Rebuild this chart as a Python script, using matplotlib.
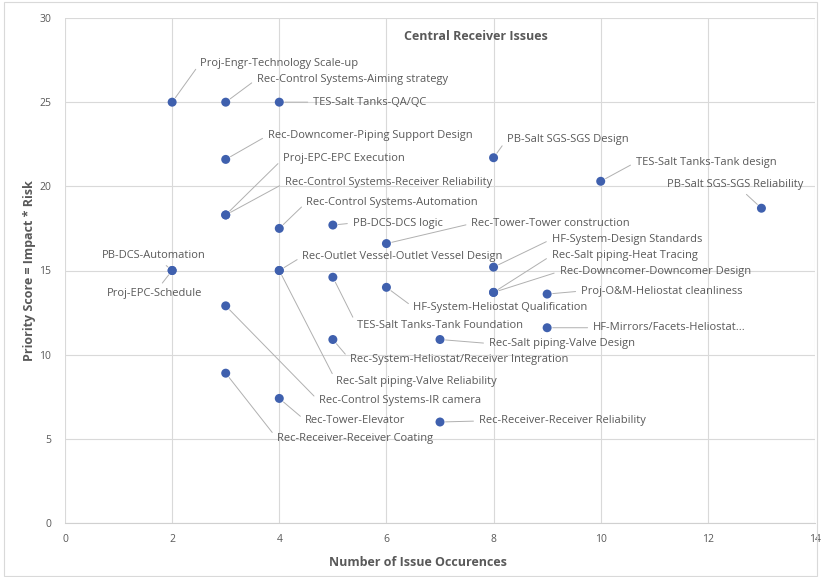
import matplotlib.pyplot as plt
from matplotlib.patches import Rectangle

# issue data: occurrences vs priority score
issues = [
    'Proj-Engr-Technology Scale-up',
    'Rec-Control Systems-Aiming strategy',
    'TES-Salt Tanks-QA/QC',
    'Rec-Downcomer-Piping Support Design',
    'Proj-EPC-EPC Execution',
    'Rec-Control Systems-Receiver Reliability',
    'Rec-Control Systems-Automation',
    'PB-DCS-DCS logic',
    'Rec-Tower-Tower construction',
    'PB-DCS-Automation',
    'Proj-EPC-Schedule',
    'Rec-Outlet Vessel-Outlet Vessel Design',
    'Rec-Salt piping-Valve Reliability',
    'TES-Salt Tanks-Tank Foundation',
    'HF-System-Heliostat Qualification',
    'Rec-System-Heliostat/Receiver Integration',
    'Rec-Control Systems-IR camera',
    'Rec-Receiver-Receiver Coating',
    'Rec-Tower-Elevator',
    'PB-Salt SGS-SGS Design',
    'TES-Salt Tanks-Tank design',
    'PB-Salt SGS-SGS Reliability',
    'HF-System-Design Standards',
    'Rec-Salt piping-Heat Tracing',
    'Rec-Downcomer-Downcomer Design',
    'Proj-O&M-Heliostat cleanliness',
    'HF-Mirrors/Facets-Heliostat...',
    'Rec-Salt piping-Valve Design',
    'Rec-Receiver-Receiver Reliability',
]
occurrences = [2, 3, 4, 3, 3, 3, 4, 5, 6, 2, 2, 4, 4, 5, 6, 5, 3, 3, 4,
               8, 10, 13, 8, 8, 8, 9, 9, 7, 7]
priority = [25, 25, 25, 21.6, 18.3, 18.3, 17.5, 17.7, 16.6, 15, 15, 15, 15,
            14.6, 14.0, 10.9, 12.9, 8.9, 7.4, 21.7, 20.3, 18.7, 15.2, 13.7,
            13.7, 13.6, 11.6, 10.9, 6.0]

# label placement (pixel offsets from the point, horizontal alignment)
label_offsets = [
    (28, 39, 'left'), (31, 23, 'left'), (34, 0, 'left'), (42, 24, 'left'),
    (57, 56, 'left'), (59, 32, 'left'), (27, 26, 'left'), (20, 2, 'left'),
    (85, 20, 'left'), (-18, 15, 'center'), (-18, -23, 'center'),
    (23, 14, 'left'), (57, -111, 'left'), (24, -48, 'left'),
    (27, -20, 'left'), (17, -20, 'left'), (93, -95, 'left'),
    (51, -65, 'left'), (26, -22, 'left'), (13, 18, 'left'),
    (35, 19, 'left'), (-26, 24, 'center'), (58, 28, 'left'),
    (58, 37, 'left'), (66, 21, 'left'), (34, 3, 'left'), (46, 0, 'left'),
    (49, -4, 'left'), (39, 1, 'left'),
]

text_gray = '#595959'
font = 'Open Sans'

fig = plt.figure(figsize=(8.21, 5.77), dpi=100)
ax = fig.add_axes([65 / 821, 54 / 577, 750 / 821, 505 / 577])

ax.scatter(occurrences, priority, s=42, color='#3F60AE', zorder=3,
           edgecolors='none')

for name, x, y, (dx, dy, ha) in zip(issues, occurrences, priority, label_offsets):
    relx = 0 if ha == 'left' else 0.5
    ax.annotate(name, (x, y), xytext=(dx, dy), textcoords='offset pixels',
                ha=ha, va='center', fontsize=8, color=text_gray,
                family=font,
                arrowprops=dict(arrowstyle='-', color='#B0B0B0', lw=0.7,
                                shrinkA=2, shrinkB=4, relpos=(relx, 0.5)))

ax.set_xlim(0, 14)
ax.set_ylim(0, 30)
ax.set_xticks(range(0, 15, 2))
ax.set_yticks(range(0, 31, 5))
ax.grid(True, color='#D9D9D9', lw=0.8)
ax.set_axisbelow(True)
for side in ['top', 'right', 'left']:
    ax.spines[side].set_visible(False)
ax.spines['bottom'].set_color('#D0D0D0')
ax.tick_params(length=0, labelsize=7.5, labelcolor=text_gray, pad=8)
ax.tick_params(axis='y', pad=10)
for lbl in ax.get_xticklabels() + ax.get_yticklabels():
    lbl.set_family(font)

fig.text(418 / 821, 1 - 563 / 577, 'Number of Issue Occurences', ha='center',
         va='center', fontsize=9, fontweight='bold', color=text_gray,
         family=font)
fig.text(30 / 821, 1 - 271 / 577, 'Priority Score = Impact * Risk',
         ha='center', va='center', rotation=90, fontsize=9,
         fontweight='bold', color=text_gray, family=font)

fig.text(476 / 821, 1 - 37 / 577, 'Central Receiver Issues', ha='center',
         va='center', fontsize=9, fontweight='bold', color=text_gray,
         family=font)

fig.patches.append(Rectangle((4 / 821, 1 / 577), 813 / 821, 574 / 577,
                             transform=fig.transFigure, fill=False,
                             edgecolor='#D9D9D9', lw=0.8))

fig.savefig('out.png', dpi=100)
